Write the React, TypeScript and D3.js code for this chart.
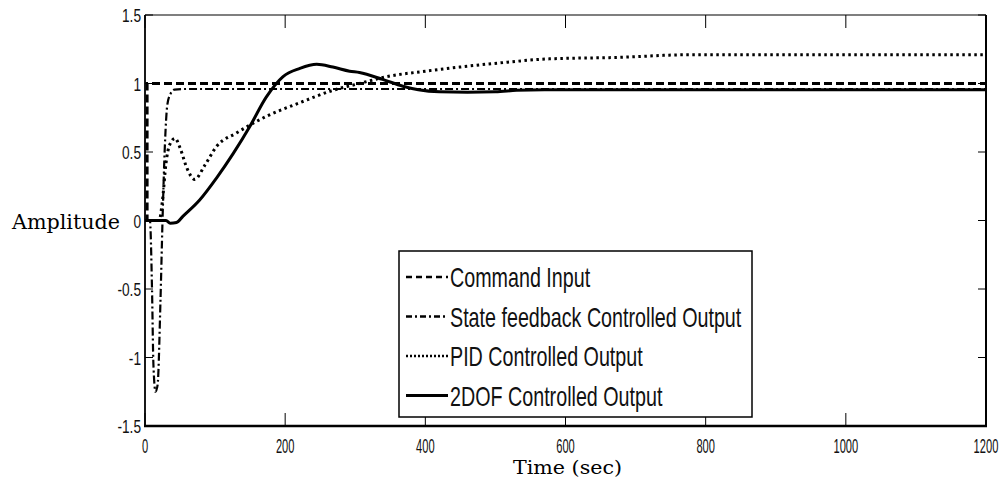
import { useEffect, useRef } from 'react';
import * as d3 from 'd3';

const W = 1002;
const H = 479;
const PLOT = { left: 145, right: 986, top: 15, bottom: 426 };

const xTicks = [0, 200, 400, 600, 800, 1000, 1200];
const yTicks = [-1.5, -1, -0.5, 0, 0.5, 1, 1.5];

// Command Input (step)
const cmdT = [0, 3, 3, 1200];
const cmdY = [0, 0, 1, 1];

// State feedback Controlled Output
const sfT = [0, 7, 10, 12, 15, 18, 22, 25, 28, 32, 37, 42, 60, 150, 400, 800, 1200];
const sfY = [0, 0, -0.5, -1.05, -1.25, -1.2, -0.6, 0, 0.5, 0.85, 0.93, 0.955, 0.96, 0.96, 0.96, 0.96, 0.96];

// PID Controlled Output
const pidT = [0, 20, 25, 30, 35, 43, 50, 60, 71, 85, 102, 131, 173, 221, 268, 306, 345, 400, 449, 506, 577, 672, 777, 900, 1200];
const pidY = [0, 0, 0.15, 0.42, 0.55, 0.6, 0.53, 0.38, 0.3, 0.4, 0.54, 0.64, 0.76, 0.86, 0.95, 1.0, 1.05, 1.09, 1.12, 1.15, 1.18, 1.19, 1.21, 1.21, 1.21];

// 2DOF Controlled Output
const dofT = [0, 30, 36, 45, 54, 78, 102, 126, 150, 173, 197, 221, 245, 268, 292, 306, 339, 368, 390, 420, 460, 500, 530, 570, 700, 1200];
const dofY = [0, 0, -0.02, -0.015, 0.03, 0.15, 0.31, 0.49, 0.69, 0.9, 1.05, 1.11, 1.14, 1.12, 1.09, 1.08, 1.03, 0.98, 0.955, 0.94, 0.937, 0.94, 0.95, 0.955, 0.955, 0.955];

const seriesNames = ['Command Input', 'State feedback Controlled Output', 'PID Controlled Output', '2DOF Controlled Output'];

const styles = [
  { dash: '8,4', width: 3, curve: d3.curveLinear },
  { dash: '8,3,2,3', width: 2.2, curve: d3.curveMonotoneX },
  { dash: '2.5,3.5', width: 3, curve: d3.curveMonotoneX },
  { dash: null, width: 3, curve: d3.curveMonotoneX },
];

export default function App() {
  const svgRef = useRef<SVGSVGElement>(null);

  useEffect(() => {
    document.body.style.margin = '0';
    const svg = svgRef.current;
    if (!svg) return;
    const root = d3.select(svg);
    root.selectAll('*').remove();

    const x = d3.scaleLinear().domain([0, 1200]).range([PLOT.left, PLOT.right]);
    const y = d3.scaleLinear().domain([-1.5, 1.5]).range([PLOT.bottom, PLOT.top]);

    root.append('rect').attr('width', W).attr('height', H).attr('fill', '#fff');

    root.append('clipPath').attr('id', 'plot-clip').append('rect')
      .attr('x', PLOT.left).attr('y', PLOT.top)
      .attr('width', PLOT.right - PLOT.left).attr('height', PLOT.bottom - PLOT.top);

    const series = [
      [cmdT, cmdY],
      [sfT, sfY],
      [pidT, pidY],
      [dofT, dofY],
    ];

    // Lines
    const lines = root.append('g').attr('clip-path', 'url(#plot-clip)');
    series.forEach(([ts, vs], i) => {
      const pts = ts.map((t, k) => [t, vs[k]] as [number, number]);
      const line = d3.line<[number, number]>().x(d => x(d[0])).y(d => y(d[1])).curve(styles[i].curve);
      lines.append('path').attr('d', line(pts)).attr('fill', 'none').attr('stroke', '#000')
        .attr('stroke-width', styles[i].width)
        .attr('stroke-dasharray', styles[i].dash);
    });

    // Box
    const ax = root.append('g').attr('stroke', '#000');
    ax.append('line').attr('x1', PLOT.left).attr('x2', PLOT.right).attr('y1', PLOT.top).attr('y2', PLOT.top).attr('stroke-width', 1.2);
    ax.append('line').attr('x1', PLOT.left - 1).attr('x2', PLOT.right + 1).attr('y1', PLOT.bottom).attr('y2', PLOT.bottom).attr('stroke-width', 2.4);
    ax.append('line').attr('x1', PLOT.left).attr('x2', PLOT.left).attr('y1', PLOT.top).attr('y2', PLOT.bottom).attr('stroke-width', 1.8);
    ax.append('line').attr('x1', PLOT.right).attr('x2', PLOT.right).attr('y1', PLOT.top).attr('y2', PLOT.bottom).attr('stroke-width', 2);

    // Ticks (inward, both sides)
    xTicks.forEach(t => {
      ax.append('line').attr('x1', x(t)).attr('x2', x(t)).attr('y1', PLOT.bottom).attr('y2', PLOT.bottom - 13).attr('stroke-width', 1);
      ax.append('line').attr('x1', x(t)).attr('x2', x(t)).attr('y1', PLOT.top).attr('y2', PLOT.top + 13).attr('stroke-width', 1);
    });
    yTicks.forEach(t => {
      ax.append('line').attr('x1', PLOT.left).attr('x2', PLOT.left + 8).attr('y1', y(t)).attr('y2', y(t)).attr('stroke-width', 1);
      ax.append('line').attr('x1', PLOT.right).attr('x2', PLOT.right - 8).attr('y1', y(t)).attr('y2', y(t)).attr('stroke-width', 1);
    });

    // Tick labels
    const font = 'Liberation Sans, Arial, sans-serif';
    xTicks.forEach(t => {
      root.append('text')
        .attr('transform', `translate(${x(t)},453) scale(0.53,1)`)
        .attr('text-anchor', 'middle').attr('font-family', font).attr('font-size', 21).attr('fill', '#111')
        .text(String(t));
    });
    yTicks.forEach(t => {
      root.append('text')
        .attr('transform', `translate(${PLOT.left - 4},${y(t) + 7}) scale(0.72,1)`)
        .attr('text-anchor', 'end').attr('font-family', font).attr('font-size', 19).attr('fill', '#111')
        .text(String(t));
    });

    // Axis titles
    const serif = 'DejaVu Serif, serif';
    root.append('text').attr('x', 12).attr('y', 229).attr('font-family', serif).attr('font-size', 20)
      .attr('textLength', 108).attr('lengthAdjust', 'spacingAndGlyphs').attr('fill', '#000').text('Amplitude');
    root.append('text').attr('x', 513).attr('y', 474).attr('font-family', serif).attr('font-size', 19)
      .attr('textLength', 109).attr('lengthAdjust', 'spacingAndGlyphs').attr('fill', '#000').text('Time (sec)');

    // Legend
    const lg = root.append('g');
    lg.append('rect').attr('x', 399).attr('y', 251).attr('width', 353).attr('height', 166)
      .attr('fill', '#fff').attr('stroke', '#000').attr('stroke-width', 1.5);
    seriesNames.forEach((name, i) => {
      const cy = 277 + i * 39.5;
      lg.append('line').attr('x1', 406).attr('x2', 448).attr('y1', cy).attr('y2', cy)
        .attr('stroke', '#000').attr('stroke-width', i === 3 ? 3 : 2.5)
        .attr('stroke-dasharray', i === 0 ? '6,4' : i === 1 ? '6,3,2,3' : i === 2 ? '2,2' : null);
      lg.append('text')
        .attr('transform', `translate(450,${cy + 10}) scale(0.73,1)`)
        .attr('font-family', font).attr('font-size', 27).attr('fill', '#111')
        .text(name);
    });
  }, []);

  return <svg ref={svgRef} width={W} height={H} style={{ display: 'block' }} />;
}
